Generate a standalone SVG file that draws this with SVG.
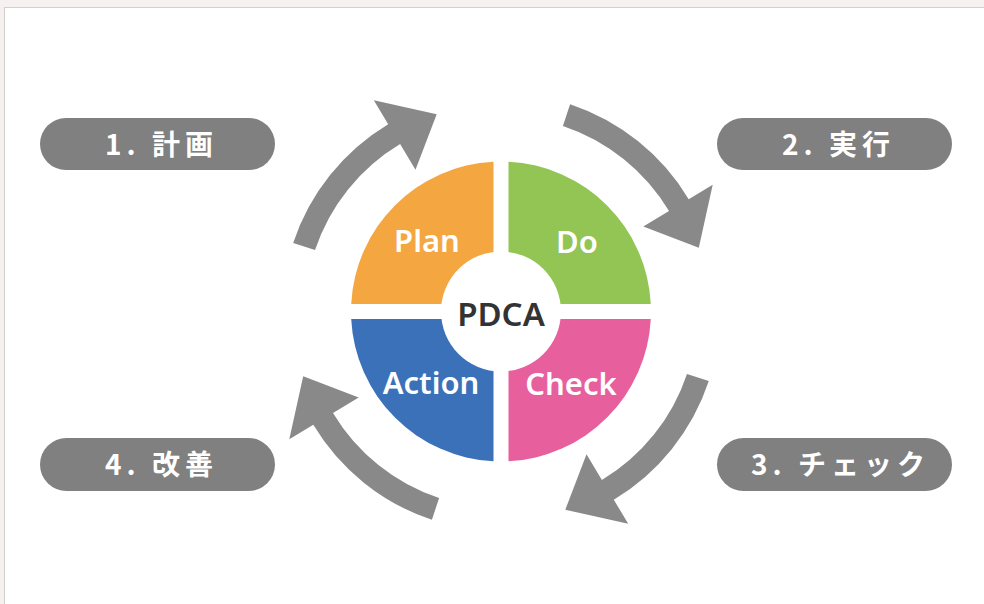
<svg xmlns="http://www.w3.org/2000/svg" width="984" height="604" viewBox="0 0 984 604">
  <style>
    .arrow { fill: #898989; }
    .pill { fill: #808080; }
    .pilltxt { font-family: "Noto Sans CJK JP", "Noto Sans", sans-serif; font-weight: 700; font-size: 28px; fill: #ffffff; letter-spacing: 5px; }
    .qtxt { font-family: "Noto Sans", "Liberation Sans", sans-serif; font-weight: 600; font-size: 31px; fill: #ffffff; text-anchor: middle; }
    .ctr { font-family: "Noto Sans", "Liberation Sans", sans-serif; font-weight: 600; font-size: 33px; fill: #333333; text-anchor: middle; }
  </style>
  <defs>
    <path id="carrow" d="M -207.8 -69.1 A 219 219 0 0 1 -112.8 -187.7 L -127.2 -211.7 L -64.3 -197.8 L -85.5 -142.3 L -100.9 -168.0 A 196 196 0 0 0 -186.0 -61.9 Z"/>
  </defs>
  <rect x="0" y="0" width="984" height="604" fill="#f6f1f0"/>
  <rect x="4.5" y="7.5" width="990" height="610" fill="#ffffff" stroke="#d2cfcf" stroke-width="1"/>

  <g id="connectors">
    <use href="#carrow" class="arrow" transform="translate(501,312) rotate(0)"/>
    <use href="#carrow" class="arrow" transform="translate(501,312) rotate(90)"/>
    <use href="#carrow" class="arrow" transform="translate(501,312) rotate(180)"/>
    <use href="#carrow" class="arrow" transform="translate(501,312) rotate(270)"/>
  </g>

  <g id="plan">
    <path d="M 493.5 304 L 351.2 304 A 150 150 0 0 1 493.5 161.7 Z" fill="#f4a641"/>
    <text class="qtxt" x="427" y="252">Plan</text>
  </g>
  <g id="do">
    <path d="M 508.5 304 L 508.5 161.7 A 150 150 0 0 1 650.8 304 Z" fill="#92c553"/>
    <text class="qtxt" x="577" y="253">Do</text>
  </g>
  <g id="check">
    <path d="M 508.5 319 L 650.8 319 A 150 150 0 0 1 508.5 461.3 Z" fill="#e75f9d"/>
    <text class="qtxt" x="571" y="395">Check</text>
  </g>
  <g id="action">
    <path d="M 493.5 319 L 493.5 461.3 A 150 150 0 0 1 351.2 319 Z" fill="#3a71b8"/>
    <text class="qtxt" x="431" y="394">Action</text>
  </g>
  <g id="pdca">
    <circle cx="501" cy="311.5" r="60" fill="#ffffff"/>
    <text class="ctr" x="501" y="326">PDCA</text>
  </g>

  <g id="label1">
    <rect class="pill" x="40" y="118" width="235" height="52" rx="26"/>
    <text class="pilltxt" x="105" y="155">1. 計画</text>
  </g>
  <g id="label2">
    <rect class="pill" x="717" y="118" width="235" height="52" rx="26"/>
    <text class="pilltxt" x="782" y="155">2. 実行</text>
  </g>
  <g id="label3">
    <rect class="pill" x="717" y="438" width="235" height="53" rx="26.5"/>
    <text class="pilltxt" x="751" y="475">3. チェック</text>
  </g>
  <g id="label4">
    <rect class="pill" x="40" y="438" width="235" height="53" rx="26.5"/>
    <text class="pilltxt" x="105" y="475">4. 改善</text>
  </g>
</svg>
